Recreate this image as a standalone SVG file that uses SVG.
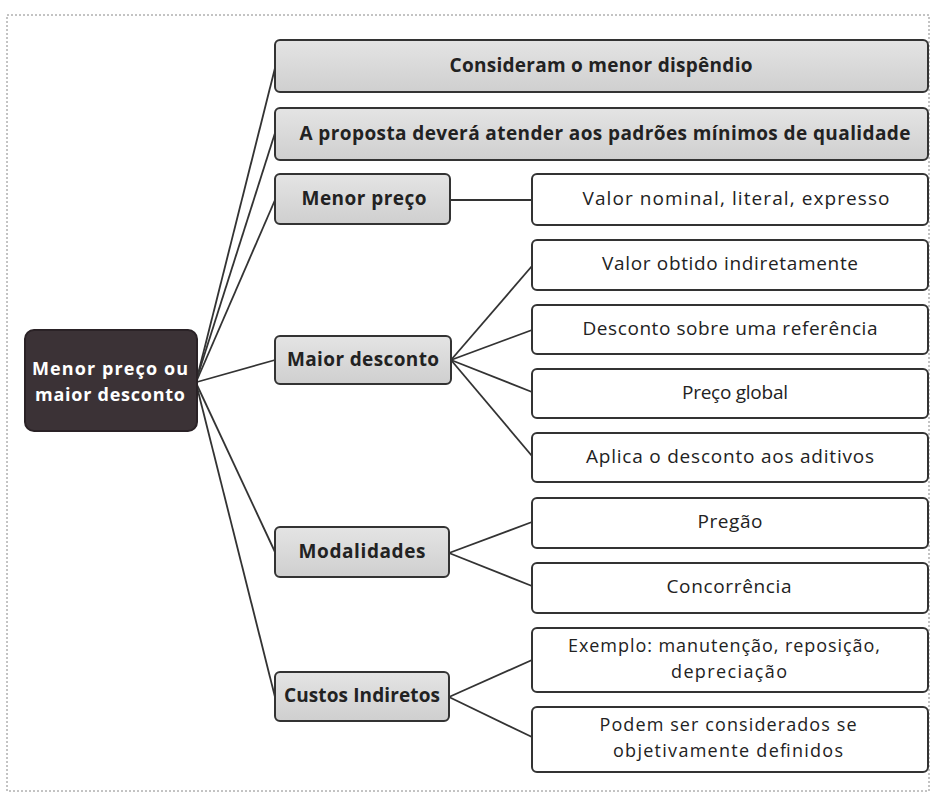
<svg xmlns="http://www.w3.org/2000/svg" width="932" height="794" viewBox="0 0 932 794">
<defs>
<linearGradient id="g" x1="0" y1="0" x2="0" y2="1"><stop offset="0" stop-color="#e4e4e4"/><stop offset="1" stop-color="#cfcfcf"/></linearGradient>
</defs>
<style>
.grey{fill:url(#g);stroke:#333;stroke-width:2}
.white{fill:#fff;stroke:#333;stroke-width:2}
.root{fill:#3b3236;stroke:#2a2226;stroke-width:2}
.tb{font-family:"Open Sans",Lato,"Liberation Sans",sans-serif;font-weight:bold;font-size:19px;fill:#222;text-anchor:middle}
.tr{font-family:"Open Sans",Lato,"Liberation Sans",sans-serif;font-size:19px;fill:#222;text-anchor:middle}
.t2{font-family:"Open Sans",Lato,"Liberation Sans",sans-serif;font-size:18px;fill:#222;text-anchor:middle}
.tw{font-family:"Open Sans",Lato,"Liberation Sans",sans-serif;font-weight:bold;font-size:18px;fill:#fff;text-anchor:middle}
.c{fill:none;stroke:#333;stroke-width:1.8}
</style>
<rect x="0" y="0" width="932" height="794" fill="#fff"/>
<rect x="7" y="15" width="922" height="776" fill="none" stroke="#888" stroke-width="1" stroke-dasharray="2,2"/>
<g id="connectors">
<path class="c" d="M197,378 L275,68"/>
<path class="c" d="M197,378 L275,133"/>
<path class="c" d="M197,380 L275,200"/>
<path class="c" d="M197,382 L275,360"/>
<path class="c" d="M197,385 L275,552"/>
<path class="c" d="M197,387 L275,697"/>
<path class="c" d="M450,200 L532,200"/>
<path class="c" d="M451,360 L532,266"/>
<path class="c" d="M451,360 L532,330"/>
<path class="c" d="M451,360 L532,392"/>
<path class="c" d="M451,360 L532,456"/>
<path class="c" d="M449,553 L532,522"/>
<path class="c" d="M449,553 L532,586"/>
<path class="c" d="M449,697 L532,660"/>
<path class="c" d="M449,697 L532,737"/>
</g>
<g id="root"><rect class="root" x="25" y="330" width="172" height="101" rx="9"/><text class="tw" x="110" y="375" textLength="156" lengthAdjust="spacing">Menor preço ou</text><text class="tw" x="110" y="401" textLength="150" lengthAdjust="spacing">maior desconto</text></g>
<g id="n1"><rect class="grey" x="275" y="40" width="653" height="52" rx="5"/><text class="tb" x="601" y="72" textLength="303" lengthAdjust="spacing">Consideram o menor dispêndio</text></g>
<g id="n2"><rect class="grey" x="275" y="108" width="653" height="52" rx="5"/><text class="tb" x="605" y="140" textLength="611" lengthAdjust="spacing">A proposta deverá atender aos padrões mínimos de qualidade</text></g>
<g id="n3"><rect class="grey" x="275" y="174" width="175" height="50" rx="5"/><text class="tb" x="364" y="205" textLength="125" lengthAdjust="spacing">Menor preço</text></g>
<g id="n4"><rect class="grey" x="275" y="336" width="176" height="48" rx="5"/><text class="tb" x="363" y="366" textLength="152" lengthAdjust="spacing">Maior desconto</text></g>
<g id="n5"><rect class="grey" x="275" y="527" width="174" height="50" rx="5"/><text class="tb" x="362" y="558" textLength="127" lengthAdjust="spacing">Modalidades</text></g>
<g id="n6"><rect class="grey" x="275" y="672" width="174" height="49" rx="5"/><text class="tb" x="362" y="702" textLength="156" lengthAdjust="spacing">Custos Indiretos</text></g>
<g id="n7"><rect class="white" x="532" y="174" width="396" height="51" rx="5"/><text class="tr" x="736" y="205" textLength="307" lengthAdjust="spacing">Valor nominal, literal, expresso</text></g>
<g id="n8"><rect class="white" x="532" y="240" width="396" height="50" rx="5"/><text class="tr" x="730" y="270" textLength="256" lengthAdjust="spacing">Valor obtido indiretamente</text></g>
<g id="n9"><rect class="white" x="532" y="305" width="396" height="49" rx="5"/><text class="tr" x="730" y="335" textLength="295" lengthAdjust="spacing">Desconto sobre uma referência</text></g>
<g id="n10"><rect class="white" x="532" y="369" width="396" height="49" rx="5"/><text class="tr" x="735" y="399" textLength="106" lengthAdjust="spacing">Preço global</text></g>
<g id="n11"><rect class="white" x="532" y="433" width="396" height="49" rx="5"/><text class="tr" x="730" y="463" textLength="288" lengthAdjust="spacing">Aplica o desconto aos aditivos</text></g>
<g id="n12"><rect class="white" x="532" y="498" width="396" height="50" rx="5"/><text class="tr" x="730" y="528" textLength="65" lengthAdjust="spacing">Pregão</text></g>
<g id="n13"><rect class="white" x="532" y="563" width="396" height="50" rx="5"/><text class="tr" x="729" y="593" textLength="125" lengthAdjust="spacing">Concorrência</text></g>
<g id="n14"><rect class="white" x="532" y="628" width="396" height="64" rx="5"/><text class="t2" x="724" y="652" textLength="312" lengthAdjust="spacing">Exemplo: manutenção, reposição,</text><text class="t2" x="729" y="678" textLength="116" lengthAdjust="spacing">depreciação</text></g>
<g id="n15"><rect class="white" x="532" y="707" width="396" height="65" rx="5"/><text class="t2" x="728" y="731" textLength="257" lengthAdjust="spacing">Podem ser considerados se</text><text class="t2" x="728" y="757" textLength="230" lengthAdjust="spacing">objetivamente definidos</text></g>
</svg>
